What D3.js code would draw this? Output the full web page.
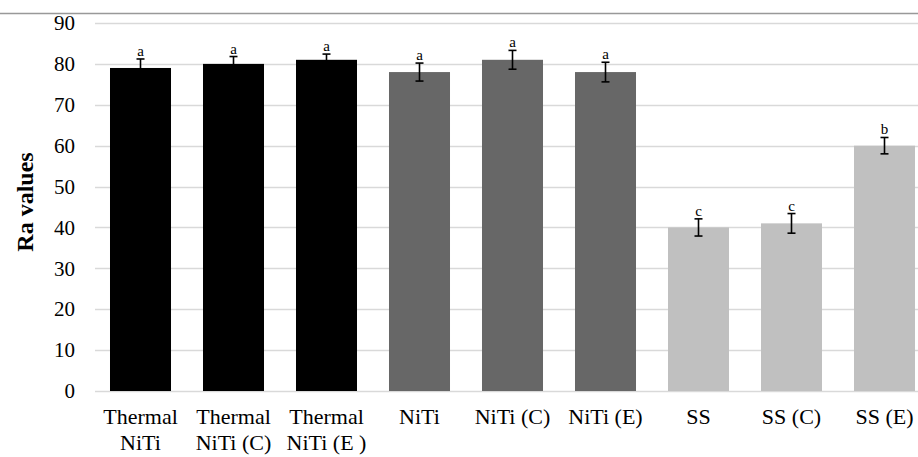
<!DOCTYPE html>
<html>
<head>
<meta charset="utf-8">
<script src="https://cdn.jsdelivr.net/npm/d3@7"></script>
<style>
  body { margin: 0; background: #fff; }
  svg text { font-family: "Liberation Serif", "Times New Roman", serif; fill: #000; }
</style>
</head>
<body>
<div id="chart"></div>
<script>
const categories = ['Thermal\nNiTi', 'Thermal\nNiTi (C)', 'Thermal\nNiTi (E )', 'NiTi', 'NiTi (C)', 'NiTi (E)', 'SS', 'SS (C)', 'SS (E)'];
const values = [79, 80, 81, 78, 81, 78, 40, 41, 60];
const errors = [2.2, 1.8, 1.4, 2.2, 2.3, 2.4, 2.1, 2.4, 2];
const letters = ['a', 'a', 'a', 'a', 'a', 'a', 'c', 'c', 'b'];
const groupColor = ['#000000', '#000000', '#000000', '#676767', '#676767', '#676767', '#c0c0c0', '#c0c0c0', '#c0c0c0'];
const yTicks = d3.range(0, 91, 10);

const W = 918, H = 457;
const svg = d3.select('#chart').append('svg').attr('width', W).attr('height', H);

// top frame line
svg.append('line').attr('x1', 0).attr('x2', W).attr('y1', 13.5).attr('y2', 13.5)
  .attr('stroke', '#999').attr('stroke-width', 1.5);

const x = d3.scaleBand().domain(categories).range([94, 931]).paddingInner(0.344).paddingOuter(0.172);
const y = d3.scaleLinear().domain([0, 90]).range([391, 23]);

// gridlines
svg.append('g').selectAll('line').data(yTicks).join('line')
  .attr('x1', 95).attr('x2', W)
  .attr('y1', d => Math.round(y(d)) + 0.5).attr('y2', d => Math.round(y(d)) + 0.5)
  .attr('stroke', '#d9d9d9').attr('stroke-width', 1.3);

// y axis labels
const yAxis = svg.append('g').attr('transform', 'translate(95,0)')
  .call(d3.axisLeft(y).tickValues(yTicks).tickSize(0).tickPadding(20));
yAxis.select('.domain').remove();
yAxis.selectAll('text').style('font-size', '21px').attr('font-family', null);

svg.append('text')
  .attr('transform', 'translate(33,' + 202 + ') rotate(-90)')
  .attr('text-anchor', 'middle')
  .style('font-size', '24px').style('font-weight', 'bold')
  .text('Ra values');

// bars
svg.append('g').selectAll('rect').data(values).join('rect')
  .attr('x', (d, i) => x(categories[i]))
  .attr('width', x.bandwidth())
  .attr('y', d => y(d))
  .attr('height', d => y(0) - y(d))
  .attr('fill', (d, i) => groupColor[i]);

// error bars
const eb = svg.append('g').attr('stroke', '#000').attr('stroke-width', 1.6);
values.forEach((v, i) => {
  const cx = x(categories[i]) + x.bandwidth() / 2;
  eb.append('line').attr('x1', cx).attr('x2', cx).attr('y1', y(v + errors[i])).attr('y2', y(v - errors[i]));
  eb.append('line').attr('x1', cx - 4).attr('x2', cx + 4).attr('y1', y(v + errors[i])).attr('y2', y(v + errors[i]));
  eb.append('line').attr('x1', cx - 4).attr('x2', cx + 4).attr('y1', y(v - errors[i])).attr('y2', y(v - errors[i]));
});

// significance letters
svg.append('g').selectAll('text').data(letters).join('text')
  .attr('x', (d, i) => x(categories[i]) + x.bandwidth() / 2)
  .attr('y', (d, i) => y(values[i] + errors[i]) - 3)
  .attr('text-anchor', 'middle')
  .style('font-size', '15px')
  .text(d => d);

// x labels
const xl = svg.append('g').selectAll('text').data(categories).join('text')
  .attr('x', d => x(d) + x.bandwidth() / 2)
  .attr('y', 424)
  .attr('text-anchor', 'middle')
  .style('font-size', '22px');
xl.each(function (d) {
  const lines = d.split('\n');
  d3.select(this).selectAll('tspan').data(lines).join('tspan')
    .attr('x', x(d) + x.bandwidth() / 2)
    .attr('dy', (l, j) => j ? 26 : 0)
    .text(l => l);
});
</script>
</body>
</html>
